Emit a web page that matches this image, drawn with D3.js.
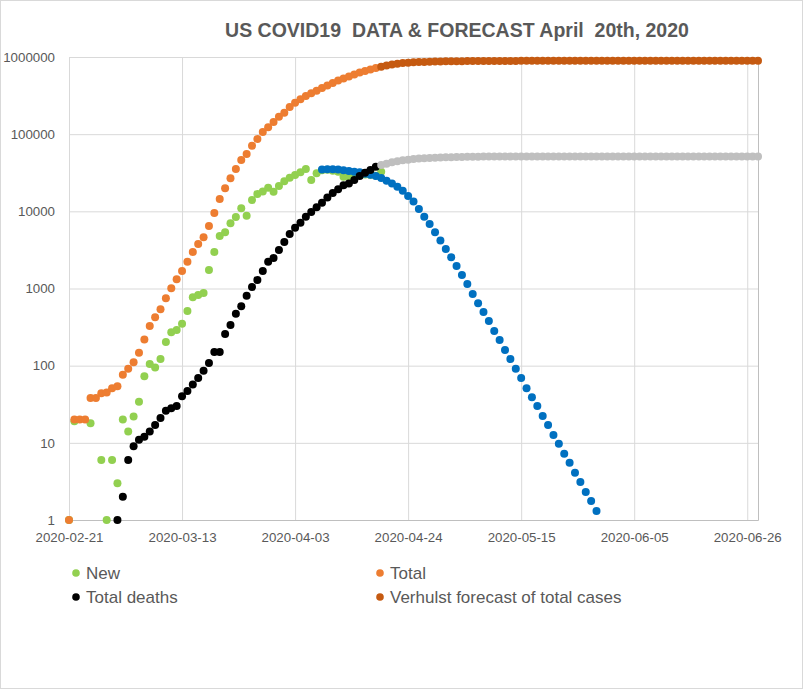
<!DOCTYPE html>
<html><head><meta charset="utf-8">
<script src="https://cdn.jsdelivr.net/npm/d3@7"></script>
<style>
html,body{margin:0;padding:0;background:#fff;}
svg{display:block;font-family:"Liberation Sans",Arial,sans-serif;}
</style></head><body>
<svg id="chart" width="804" height="690"></svg>
<script>
// ---------------- DATA ----------------
const chartTitle = "US COVID19  DATA & FORECAST April  20th, 2020";
const xTickLabels = ["2020-02-21","2020-03-13","2020-04-03","2020-04-24","2020-05-15","2020-06-05","2020-06-26"];
const xDomain = ["2020-02-21","2020-06-28"];
const yTickValues = [1,10,100,1000,10000,100000,1000000];

// New cases (daily), from 2020-02-21; null = zero (not shown on log axis)
const newStart = "2020-02-21";
const newCases = [1,19,null,null,18,null,6,1,6,3,
  20,14,22,34,73,105,95,122,203,271,
  290,350,511,769,824,875,1740,2970,4790,5350,
  7000,8430,10930,8770,14000,16800,18100,20200,17900,21300,
  24500,27300,29600,32000,35400,25500,31100,34000,34500,33500,
  32500,28100,28100,31500,31000,30000,29500,29000,32600];

// Total cases, from 2020-02-21
const totalStart = "2020-02-21";
const totalCases = [1,20,20,20,38,38,44,45,51,54,
  76,91,111,147,219,327,424,537,746,1010,
  1320,1686,2224,2970,3770,4600,6450,9510,14400,19900,
  26900,35300,46200,55300,70800,86500,106700,122800,143700,168500,
  190000,225000,256000,283000,312000,338000,366000,396000,427000,460000,
  495000,526000,558000,593000,630000,658000,688000,720000];

// Total deaths, from 2020-03-01
const deathsStart = "2020-03-01";
const totalDeaths = [1,2,6,9,11,12,14,17,21,26,
  28,30,40,47,57,69,86,108,150,150,
  257,337,471,587,807,1046,1290,1690,2220,2480,
  3150,4000,5090,6130,7130,8530,9800,11270,12950,15100,
  17300,19300,21700,22900,25400,28700,31600,34300,37900];

// Verhulst forecast of total cases, from 2020-04-19
const verhulstStart = "2020-04-19";
const verhulstCases = [748000,776000,800000,819000,834000,845000,853000,859000,864000,868000,
  872000,875000,878000,880000,882000,884000,885000,886000,887000,888000,
  889000,889500,890000,890000,890500,890500,891000,891000,891000,891000,
  891000,891000,891000,891000,891000,891000,891000,891000,891000,891000,
  891000,891000,891000,891000,891000,891000,891000,891000,891000,891000,
  891000,891000,891000,891000,891000,891000,891000,891000,891000,891000,
  891000,891000,891000,891000,891000,891000,891000,891000,891000,891000,891000];

// Forecast of total deaths (grey), from 2020-04-19
const deathsForecastStart = "2020-04-19";
const deathsForecast = [39800,41500,43100,44600,45800,46700,47500,48200,48700,49200,
  49600,49900,50100,50300,50500,50700,50800,51000,51100,51200,
  51300,51300,51400,51400,51400,51500,51500,51500,51500,51500,
  51500,51500,51500,51500,51500,51500,51500,51500,51500,51500,
  51500,51500,51500,51500,51500,51500,51500,51500,51500,51500,
  51500,51500,51500,51500,51500,51500,51500,51500,51500,51500,
  51500,51500,51500,51500,51500,51500,51500,51500,51500,51500,51500];

// Forecast of new cases (blue), from 2020-04-08
const newForecastStart = "2020-04-08";
const newForecast = [34900,35100,35200,34800,34100,33300,32600,32000,30700,29800,
  28700,27000,25000,23000,20800,18500,15800,13400,10700,8490,
  6830,5350,4190,3250,2540,1950,1500,1140,850,643,
  495,379,281,215,160,122,91,69,51,39,
  30,22.3,17,12.6,9.7,7.2,5.5,4.1,3.1,2.3,1.76,1.31];

const legendNames = ["New","Total","Total deaths","Verhulst forecast of total cases"];

// ---------------- STYLE ----------------
const C = {
  green:"#92D050", orange:"#ED7D31", black:"#000000",
  darkOrange:"#C55A11", grey:"#BFBFBF", blue:"#0070C0",
  grid:"#D9D9D9", text:"#595959"
};
const W = 804, H = 690;
const plot = {left:69, right:758, top:57, bottom:520};
const R = 4;

const parse = d3.utcParse("%Y-%m-%d");
const svg = d3.select("#chart");

svg.append("rect").attr("x",0.5).attr("y",0.5).attr("width",W-2).attr("height",H-2)
  .attr("fill","#fff").attr("stroke","#D9D9D9");

const x = d3.scaleUtc().domain(xDomain.map(parse)).range([plot.left, plot.right]);
const y = d3.scaleLog().domain([1,1e6]).range([plot.bottom, plot.top]);

// gridlines
const gy = svg.append("g").attr("transform",`translate(${plot.left},0)`)
  .call(d3.axisLeft(y).tickValues(yTickValues).tickSize(-(plot.right-plot.left)).tickFormat(d3.format("d")));
gy.select(".domain").remove();
gy.selectAll(".tick line").attr("stroke",C.grid).attr("stroke-width",1);
gy.selectAll(".tick text").attr("x",-14).attr("fill",C.text).attr("font-size","13.3px")
  .attr("font-family","'Liberation Sans',Arial,sans-serif");

const gx = svg.append("g").attr("transform",`translate(0,${plot.bottom})`)
  .call(d3.axisBottom(x).tickValues(xTickLabels.map(parse)).tickSize(-(plot.bottom-plot.top)).tickFormat(d3.utcFormat("%Y-%m-%d")));
gx.select(".domain").attr("stroke","#BFBFBF");
gx.selectAll(".tick line").attr("stroke",C.grid).attr("stroke-width",1);
gx.selectAll(".tick text").attr("y",13).attr("fill",C.text).attr("font-size","13.3px")
  .attr("font-family","'Liberation Sans',Arial,sans-serif");

function series(start, values){
  const s = parse(start);
  return values.map((v,i)=>({date:d3.utcDay.offset(s,i), v}))
    .filter(d=>d.v!=null && d.v>0);
}
function dots(data, color){
  svg.append("g").selectAll("circle").data(data).join("circle")
    .attr("cx",d=>x(d.date)).attr("cy",d=>y(d.v)).attr("r",R).attr("fill",color);
}
dots(series(newStart,newCases), C.green);
dots(series(totalStart,totalCases), C.orange);
dots(series(newForecastStart,newForecast), C.blue);
dots(series(deathsStart,totalDeaths), C.black);
dots(series(verhulstStart,verhulstCases), C.darkOrange);
dots(series(deathsForecastStart,deathsForecast), C.grey);

// title
svg.append("text").attr("x",457).attr("y",37).attr("text-anchor","middle")
  .attr("font-weight","bold").attr("font-size","19.5px").attr("fill",C.text)
  .style("white-space","pre").text(chartTitle);

// legend
const legendColors = [C.green, C.orange, C.black, C.darkOrange];
const legendPos = [[76,573],[380,573],[76,597],[380,597]];
legendNames.forEach((name,i)=>{
  const [lx,ly] = legendPos[i];
  svg.append("circle").attr("cx",lx).attr("cy",ly).attr("r",3.8).attr("fill",legendColors[i]);
  svg.append("text").attr("x",lx+10).attr("y",ly+6).attr("font-size","17px")
    .attr("fill",C.text).text(name);
});
</script></body></html>
